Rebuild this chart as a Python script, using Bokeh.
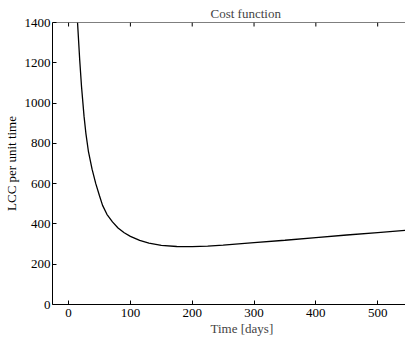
import math
from bokeh.plotting import figure
from bokeh.models import LinearAxis, Title, Range1d, FixedTicker, Span
from bokeh.embed import file_html
from bokeh.resources import INLINE

# Values
time_days = [14.5, 18, 21, 25, 28, 32, 38, 44, 50, 55, 62, 71, 80, 90, 100,
             115, 130, 150, 175, 200, 225, 250, 300, 350, 400, 450, 500, 550]
lcc = [1400, 1215, 1080, 935, 850, 762, 672, 600, 540, 492, 448, 410, 380, 356, 338,
       318, 305, 294, 288, 287, 290, 295, 307, 319, 332, 345, 357, 369]
x_ticks = [0, 100, 200, 300, 400, 500]
y_ticks = [0, 200, 400, 600, 800, 1000, 1200, 1400]
y_top = 1400

FONT = "Liberation Serif"
FS = "13px"

p = figure(width=405, height=340, output_backend="svg", toolbar_location=None,
           x_range=Range1d(-26, 545), y_range=Range1d(0, y_top),
           min_border_left=50, min_border_right=0, min_border_top=22,
           min_border_bottom=36, x_axis_type=None, y_axis_type=None)

p.background_fill_color = "white"
p.border_fill_color = "white"
p.outline_line_color = None
p.xgrid.grid_line_color = None
p.ygrid.grid_line_color = None

p.title.text = "Cost function"
p.title.align = "left"
p.title.offset = 158
p.title.text_font = FONT
p.title.text_font_size = FS
p.title.text_font_style = "normal"
p.title.standoff = 4


def style(ax):
    ax.axis_line_color = "black"
    ax.axis_line_width = 1
    ax.major_tick_in = 4
    ax.major_tick_out = 0
    ax.minor_tick_line_color = None
    ax.major_tick_line_color = "black"
    ax.major_label_text_font = FONT
    ax.major_label_text_font_size = FS
    ax.major_label_text_color = "black"
    ax.axis_label_text_font = FONT
    ax.axis_label_text_font_size = FS
    ax.axis_label_text_font_style = "normal"
    ax.axis_label_text_color = "black"


xb = LinearAxis(ticker=FixedTicker(ticks=x_ticks))
style(xb)
xb.major_label_standoff = 4
p.add_layout(xb, "below")

yl = LinearAxis(ticker=FixedTicker(ticks=y_ticks), axis_label="LCC per unit time")
style(yl)
yl.major_label_standoff = 2
yl.axis_label_standoff = 3
p.add_layout(yl, "left")

xlabel = Title(text="Time [days]", align="left", offset=158, text_font=FONT,
               text_font_size=FS, text_font_style="normal", standoff=-2)
p.add_layout(xlabel, "below")

# top frame line with inward ticks (mirrored x ticks)
p.add_layout(Span(location=y_top, dimension="width", line_color="black", line_width=1))
p.ray(x=x_ticks, y=[y_top] * len(x_ticks), length=4, length_units="screen",
      angle=-math.pi / 2, line_color="black", line_width=1)

p.line(time_days, lcc, line_color="black", line_width=1.3)

open("out.html", "w").write(file_html(p, INLINE))
